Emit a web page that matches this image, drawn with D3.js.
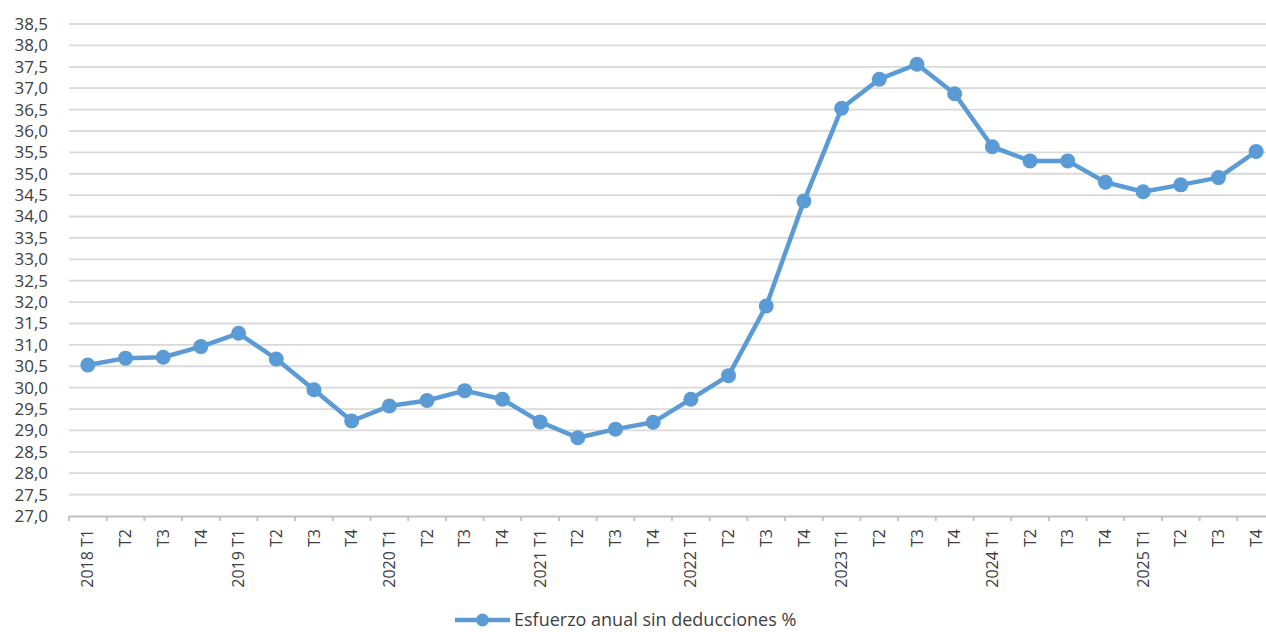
<!DOCTYPE html>
<html>
<head>
<meta charset="utf-8">
<script src="https://cdn.jsdelivr.net/npm/d3@7"></script>
<style>
  html, body { margin: 0; padding: 0; background: #fff; }
  svg { display: block; font-family: "Open Sans", "Noto Sans", sans-serif; }
</style>
</head>
<body>
<svg id="chart" width="1266" height="632"></svg>
<script>
const categories = [
  "2018 T1","T2","T3","T4",
  "2019 T1","T2","T3","T4",
  "2020 T1","T2","T3","T4",
  "2021 T1","T2","T3","T4",
  "2022 T1","T2","T3","T4",
  "2023 T1","T2","T3","T4",
  "2024 T1","T2","T3","T4",
  "2025 T1","T2","T3","T4"
];
const values = [
  30.53, 30.69, 30.71, 30.96,
  31.27, 30.67, 29.95, 29.22,
  29.57, 29.70, 29.93, 29.73,
  29.20, 28.83, 29.03, 29.19,
  29.73, 30.28, 31.91, 34.36,
  36.53, 37.21, 37.56, 36.87,
  35.63, 35.30, 35.30, 34.80,
  34.58, 34.74, 34.91, 35.52
];
const seriesName = "Esfuerzo anual sin deducciones %";
const yTicks = d3.range(27, 38.5001, 0.5);

const svg = d3.select("#chart");
const mLeft = 69, mRight = 1275, mTop = 24, mBottom = 516;
const color = "#5b9bd5";
const fontFam = "'Open Sans', 'Noto Sans', sans-serif";

const x = d3.scaleBand().domain(d3.range(categories.length)).range([mLeft, mRight]);
const y = d3.scaleLinear().domain([27, 38.5]).range([mBottom, mTop]);
const fmt = v => d3.format(".1f")(v).replace(".", ",");

// gridlines
svg.append("g").selectAll("line").data(yTicks.filter(t => t > 27)).join("line")
  .attr("x1", mLeft).attr("x2", mRight)
  .attr("y1", d => y(d)).attr("y2", d => y(d))
  .attr("stroke", "#d9d9d9").attr("stroke-width", 1.8);

// y axis labels
const yAxis = d3.axisLeft(y).tickValues(yTicks).tickFormat(fmt).tickSize(0).tickPadding(0);
const gy = svg.append("g").attr("transform", `translate(48,0)`).call(yAxis)
  .attr("font-family", fontFam);
gy.select(".domain").remove();
gy.selectAll("text").attr("font-size", 17).attr("fill", "#404040");

// x axis
const xAxis = d3.axisBottom(x).tickFormat(i => categories[i]).tickSize(0).tickPadding(0);
const gx = svg.append("g").attr("transform", `translate(0,${mBottom})`).call(xAxis)
  .attr("font-family", fontFam);
gx.select(".domain").attr("stroke", "#bfbfbf").attr("stroke-width", 1.8);
gx.selectAll(".tick text")
  .attr("transform", "rotate(-90)")
  .attr("x", -13).attr("y", 0).attr("dy", "0.35em")
  .attr("text-anchor", "end")
  .attr("font-size", 16).attr("fill", "#404040");
// category boundary ticks
const bounds = d3.range(categories.length + 1).map(i => mLeft + i * x.step());
gx.append("g").selectAll("line").data(bounds).join("line")
  .attr("x1", d => d).attr("x2", d => d).attr("y1", 0).attr("y2", 5)
  .attr("stroke", "#bfbfbf").attr("stroke-width", 1.8);

// line
const cx = i => x(i) + x.bandwidth() / 2;
const line = d3.line().x((d, i) => cx(i)).y(d => y(d));
svg.append("path").datum(values)
  .attr("d", line).attr("fill", "none")
  .attr("stroke", color).attr("stroke-width", 4.5).attr("stroke-linejoin", "round");
svg.append("g").selectAll("circle").data(values).join("circle")
  .attr("cx", (d, i) => cx(i)).attr("cy", d => y(d)).attr("r", 7.5).attr("fill", color);

// legend
const lg = svg.append("g").attr("transform", "translate(455,620)");
lg.append("line").attr("x1", 0).attr("x2", 55).attr("y1", 0).attr("y2", 0)
  .attr("stroke", color).attr("stroke-width", 4.5);
lg.append("circle").attr("cx", 27.5).attr("cy", 0).attr("r", 6.5).attr("fill", color);
lg.append("text").attr("x", 59).attr("y", 0).attr("dy", "0.33em")
  .attr("font-size", 18).attr("fill", "#404040").text(seriesName);
</script>
</body>
</html>
